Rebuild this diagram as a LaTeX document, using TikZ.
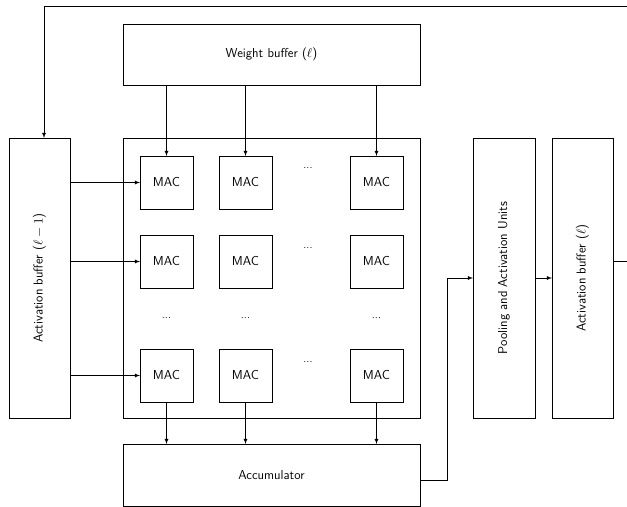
\documentclass[tikz,border=0pt]{standalone}
\usepackage{tikz}
\usetikzlibrary{calc}

\begin{document}
\begin{tikzpicture}[x=0.85pt,y=-0.85pt,font=\sffamily\fontsize{11}{13}\selectfont,line width=0.5pt,
    blk/.style={draw,outer sep=0pt,inner sep=0pt},
    mac/.style={blk,minimum width=53*0.85pt,minimum height=53*0.85pt},
    vdots/.style={font=\sffamily\small,anchor=base,inner sep=0pt}]
  \useasboundingbox (0,0) rectangle (627,507);

  % buffers and units
  \node[blk,minimum width=297*0.85pt,minimum height=61*0.85pt] (wbuf) at (271.5,54.5) {Weight buffer ($\ell$)};
  \node[blk,minimum width=61*0.85pt,minimum height=280*0.85pt] (actprev) at (39.5,278) {};
  \node[rotate=90] at (actprev.center) {Activation buffer ($\ell-1$)};
  \node[blk,minimum width=297*0.85pt,minimum height=280*0.85pt] (array) at (271.5,278) {};
  \node[blk,minimum width=297*0.85pt,minimum height=62*0.85pt] (acc) at (271.5,475) {Accumulator};
  \node[blk,minimum width=62*0.85pt,minimum height=280*0.85pt] (pool) at (504,278) {};
  \node[rotate=90] at (pool.center) {Pooling and Activation Units};
  \node[blk,minimum width=61*0.85pt,minimum height=280*0.85pt] (actcur) at (582.5,278) {};
  \node[rotate=90] at (actcur.center) {Activation buffer ($\ell$)};

  % MAC grid
  \foreach \r/\y in {1/182.5,2/261.5,3/375.5}
    \foreach \c/\x in {1/166.5,2/245.5,3/376.5}
      \node[mac] (m-\r-\c) at (\x,\y) {MAC};

  \foreach \y in {169,248,362}
    \node[vdots] at (308,\y) {...};
  \foreach \x in {166.5,245.5,376.5}
    \node[vdots] at (\x,318) {...};

  % connections
  \foreach \c in {1,2,3} {
    \draw[-latex] (m-1-\c.north |- wbuf.south) -- (m-1-\c.north);
    \draw[-latex] (m-3-\c.south) -- (m-3-\c.south |- acc.north);
  }
  \foreach \r in {1,2,3}
    \draw[-latex] (actprev.east |- m-\r-1.west) -- (m-\r-1.west);

  \draw[-latex] ($(acc.east)+(0,5)$) -- ++(27,0) |- (pool.west);
  \draw[-latex] (pool.east) -- (actcur.west);

  \coordinate (outR) at (627,261);
  \coordinate (outT) at (627,6);
  \draw (actcur.east |- outR) -- (outR);
  \draw[-latex] (outT) -| ($(actprev.north)+(4.5,0)$);
\end{tikzpicture}
\end{document}
